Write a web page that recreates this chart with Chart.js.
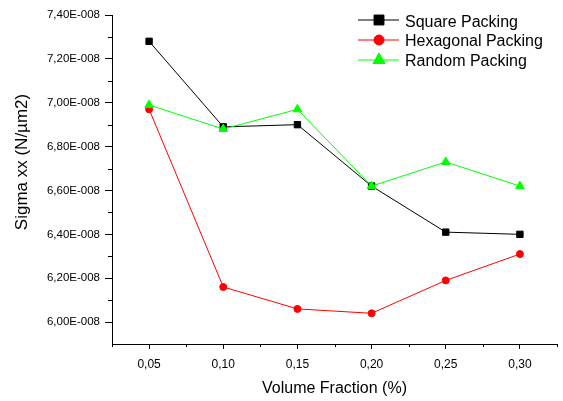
<!DOCTYPE html>
<html>
<head>
<meta charset="utf-8">
<script src="https://cdn.jsdelivr.net/npm/chart.js@4"></script>
<style>
  html, body { margin: 0; padding: 0; background: #fff; }
</style>
</head>
<body>
<canvas id="sigma" width="563" height="401"></canvas>
<script>
const volumeFraction = [0.05, 0.10, 0.15, 0.20, 0.25, 0.30];
const squarePacking = [7.28e-8, 6.89e-8, 6.90e-8, 6.62e-8, 6.41e-8, 6.40e-8];
const hexagonalPacking = [6.97e-8, 6.16e-8, 6.06e-8, 6.04e-8, 6.19e-8, 6.31e-8];
const randomPacking = [6.99e-8, 6.88e-8, 6.97e-8, 6.62e-8, 6.73e-8, 6.62e-8];
const seriesNames = ["Square Packing", "Hexagonal Packing", "Random Packing"];

const xTicks = [0.05, 0.10, 0.15, 0.20, 0.25, 0.30];
const xMinorTicks = [0.025, 0.075, 0.125, 0.175, 0.225, 0.275, 0.325];
const yTicks = [6.0e-8, 6.2e-8, 6.4e-8, 6.6e-8, 6.8e-8, 7.0e-8, 7.2e-8, 7.4e-8];
const yMinorTicks = [6.1e-8, 6.3e-8, 6.5e-8, 6.7e-8, 6.9e-8, 7.1e-8, 7.3e-8];

const xTitle = "Volume Fraction (%)";
const yTitle = "Sigma xx (N/\u00b5m2)";

const FONT = "'Liberation Sans', Arial, sans-serif";

function toPoints(values) {
  return values.map((v, i) => ({ x: volumeFraction[i], y: v }));
}

// minor ticks, axis titles and the inside legend
const extras = {
  id: "extras",
  afterDraw(chart) {
    const ctx = chart.ctx;
    const area = chart.chartArea;
    const xs = chart.scales.x;
    const ys = chart.scales.y;

    ctx.save();
    ctx.strokeStyle = "#000";
    ctx.lineWidth = 1;
    ctx.beginPath();
    yMinorTicks.forEach((v) => {
      const py = Math.round(ys.getPixelForValue(v)) + 0.5;
      ctx.moveTo(area.left - 4, py);
      ctx.lineTo(area.left, py);
    });
    xMinorTicks.forEach((v) => {
      const px = Math.round(xs.getPixelForValue(v)) + 0.5;
      ctx.moveTo(px, area.bottom);
      ctx.lineTo(px, area.bottom + 3);
    });
    ctx.stroke();

    ctx.fillStyle = "#000";
    ctx.font = "16px " + FONT;
    ctx.textAlign = "center";
    ctx.textBaseline = "alphabetic";
    ctx.fillText(xTitle, (area.left + area.right) / 2, 393);

    ctx.save();
    ctx.translate(27, 162);
    ctx.rotate(-Math.PI / 2);
    ctx.font = "17px " + FONT;
    ctx.fillText(yTitle, 0, 0);
    ctx.restore();

    // legend
    const legendSizes = [7, 5, 7];
    chart.data.datasets.forEach((ds, i) => {
      const cy = 20 + i * 20;
      ctx.strokeStyle = ds.borderColor;
      ctx.lineWidth = 1;
      ctx.beginPath();
      ctx.moveTo(358, cy);
      ctx.lineTo(399, cy);
      ctx.stroke();

      ctx.fillStyle = ds.pointBackgroundColor;
      ctx.strokeStyle = ds.pointBorderColor;
      Chart.helpers.drawPoint(ctx, {
        pointStyle: ds.pointStyle,
        radius: legendSizes[i],
        borderWidth: 1,
        rotation: 0
      }, 379, cy);

      ctx.fillStyle = "#000";
      ctx.font = "16px " + FONT;
      ctx.textAlign = "left";
      ctx.textBaseline = "alphabetic";
      ctx.fillText(ds.label, 405, 26.5 + i * 19.8);
    });
    ctx.restore();
  }
};

new Chart(document.getElementById("sigma"), {
  type: "line",
  data: {
    datasets: [
      {
        label: seriesNames[0],
        data: toPoints(squarePacking),
        borderColor: "#000000",
        pointBackgroundColor: "#000000",
        pointBorderColor: "#000000",
        pointStyle: "rect",
        pointRadius: 4.5,
        borderWidth: 1,
        order: 3
      },
      {
        label: seriesNames[1],
        data: toPoints(hexagonalPacking),
        borderColor: "#ff0000",
        pointBackgroundColor: "#ff0000",
        pointBorderColor: "#ff0000",
        pointStyle: "circle",
        pointRadius: 3.5,
        borderWidth: 1,
        order: 2
      },
      {
        label: seriesNames[2],
        data: toPoints(randomPacking),
        borderColor: "#00ff00",
        pointBackgroundColor: "#00ff00",
        pointBorderColor: "#00ff00",
        pointStyle: "triangle",
        pointRadius: 5,
        borderWidth: 1,
        order: 1
      }
    ]
  },
  options: {
    responsive: false,
    animation: false,
    layout: { padding: { left: 0, right: 2, top: 15, bottom: 0 } },
    plugins: {
      legend: { display: false },
      tooltip: { enabled: false }
    },
    scales: {
      x: {
        type: "linear",
        min: 0.025,
        max: 0.325,
        afterBuildTicks: (scale) => {
          scale.ticks = xTicks.map((v) => ({ value: v }));
        },
        afterFit: (scale) => {
          scale.height = 57;
        },
        border: { display: true, color: "#000", width: 1 },
        grid: { drawOnChartArea: false, drawTicks: true, tickLength: 5, color: "#000" },
        ticks: {
          autoSkip: false,
          maxRotation: 0,
          padding: 8,
          color: "#000",
          font: { family: FONT, size: 12 },
          callback: (v) => v.toFixed(2).replace(".", ",")
        }
      },
      y: {
        min: 5.9e-8,
        max: 7.4e-8,
        afterBuildTicks: (scale) => {
          scale.ticks = yTicks.map((v) => ({ value: v }));
        },
        afterFit: (scale) => {
          scale.width = 112;
        },
        border: { display: true, color: "#000", width: 1 },
        grid: { drawOnChartArea: false, drawTicks: true, tickLength: 7, color: "#000" },
        ticks: {
          padding: 5,
          color: "#000",
          font: { family: FONT, size: 11.5 },
          callback: (v) => (v * 1e8).toFixed(2).replace(".", ",") + "E-008"
        }
      }
    }
  },
  plugins: [extras]
});
</script>
</body>
</html>
